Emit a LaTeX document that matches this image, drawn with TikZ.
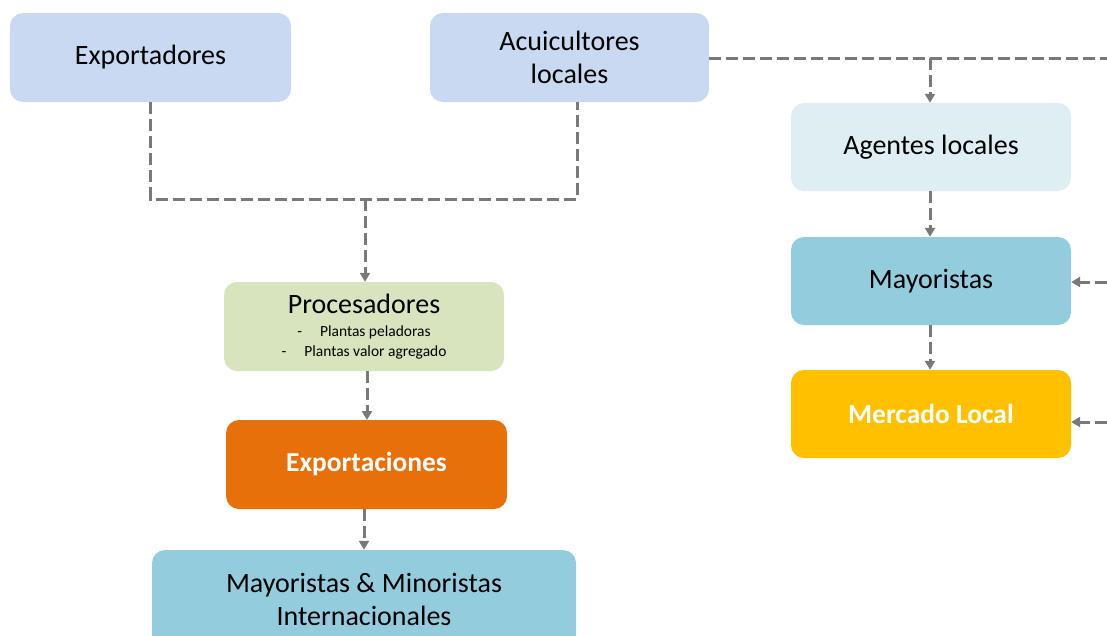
\documentclass[tikz,border=0pt]{standalone}
\usepackage{fontspec}
\setmainfont{Carlito}
\usetikzlibrary{arrows.meta}
\tikzset{>={Triangle[width=10pt,length=9pt]}}
\tikzset{
  caja/.style={rounded corners=13pt, inner sep=0pt, align=center,
    font=\fontsize{28}{33}\selectfont},
  flujo/.style={draw=gray!95!black, line width=3pt, dash pattern=on 12pt off 5pt},
}
\definecolor{azulclaro}{HTML}{C9D9F1}
\definecolor{celeste}{HTML}{DEEEF3}
\definecolor{turquesa}{HTML}{93CDDD}
\definecolor{verdeclaro}{HTML}{D7E4BD}
\definecolor{naranja}{HTML}{E8700A}
\definecolor{amarillo}{HTML}{FFC000}

\begin{document}
\begin{tikzpicture}[x=1pt,y=-1pt]
                \useasboundingbox (0,0) rectangle (1107,635);
                \node[caja, fill=azulclaro, minimum width=281, minimum height=89] (expo) at (150.5,57.5) {Exportadores};
                \node[caja, fill=azulclaro, minimum width=279, minimum height=89] (acui) at (569.5,57.5) {Acuicultores\\locales};
                \node[caja, fill=celeste, minimum width=280, minimum height=88] (agentes) at (931,147) {Agentes locales};
                \node[caja, fill=turquesa, minimum width=280, minimum height=88] (mayor) at (931,281) {Mayoristas};
                \node[caja, fill=amarillo, text=white, minimum width=280, minimum height=88,
                      font=\fontsize{27.5}{33}\selectfont\bfseries] (mercado) at (931,414) {Mercado Local};
                \node[caja, fill=verdeclaro, minimum width=280, minimum height=89] (proc) at (364,326.5)
                      {Procesadores\\[-10pt]{\fontsize{15.5}{20}\selectfont -\hspace{18pt}Plantas peladoras}\\[-13pt]
                       {\fontsize{15.5}{20}\selectfont -\hspace{18pt}Plantas valor agregado}};
                \node[caja, fill=naranja, text=white, minimum width=281, minimum height=89,
                      font=\fontsize{27.5}{33}\selectfont\bfseries] (export) at (366.5,464.5) {Exportaciones};
                \node[caja, fill=turquesa, minimum width=424, minimum height=98] (mayint) at (364,599) {Mayoristas \& Minoristas\\Internacionales};
                \coordinate (j1) at (365,199);
                \coordinate (j2) at (930,58);
                \coordinate (r0) at (1107,58);
                \coordinate (r1) at (1107,282);
                \coordinate (r2) at (1107,422);
                \draw[flujo] (expo.south) |- (j1) -| (577,102);
                \draw[flujo,->] (j1) -- (j1 |- proc.north);
                \draw[flujo] (acui.east |- r0) -- (r0);
                \draw[flujo,->] (j2) -- (j2 |- agentes.north);
                \draw[flujo,->] (367,371) -- (367,420);
                \draw[flujo,->] (export.south -| mayint.north) -- (mayint.north);
                \draw[flujo,->] (agentes.south -| j2) -- (j2 |- mayor.north);
                \draw[flujo,->] (mayor.south -| j2) -- (j2 |- mercado.north);
                \draw[flujo,->] (r1) -- (r1 -| mayor.east);
                \draw[flujo,->] (r2) -- (r2 -| mercado.east);
            \end{tikzpicture}
\end{document}
